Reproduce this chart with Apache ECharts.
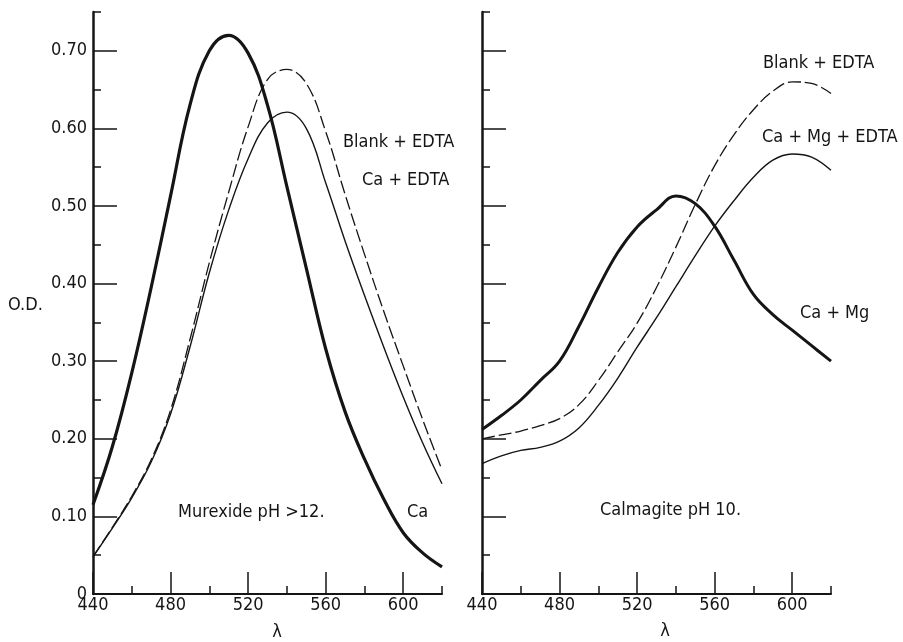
<!DOCTYPE html>
<html>
<head>
<meta charset="utf-8">
<script src="https://cdn.jsdelivr.net/npm/echarts@6/dist/echarts.min.js"></script>
<style>
  html, body { margin: 0; padding: 0; background: #fff; }
  #chart { width: 903px; height: 642px; }
</style>
</head>
<body>
<div id="chart"></div>
<script>
// wavelength grid (nm), shared by all curves
var lambda = [440, 450, 460, 470, 480, 490, 500, 510, 520, 530, 540, 550, 560, 570, 580, 590, 600, 610, 620];

// Murexide pH >12 (left panel)
var murexCa        = [0.115, 0.190, 0.285, 0.395, 0.513, 0.630, 0.700, 0.720, 0.697, 0.630, 0.525, 0.420, 0.316, 0.235, 0.174, 0.122, 0.079, 0.053, 0.035];
var murexBlankEdta = [0.048, 0.086, 0.126, 0.173, 0.237, 0.328, 0.427, 0.518, 0.602, 0.663, 0.676, 0.658, 0.596, 0.515, 0.438, 0.364, 0.294, 0.225, 0.160];
var murexCaEdta    = [0.048, 0.085, 0.124, 0.170, 0.232, 0.318, 0.414, 0.495, 0.561, 0.607, 0.621, 0.600, 0.530, 0.455, 0.385, 0.318, 0.254, 0.195, 0.142];

// Calmagite pH 10 (right panel)
var calmCaMg       = [0.212, 0.230, 0.250, 0.275, 0.300, 0.345, 0.395, 0.440, 0.473, 0.495, 0.513, 0.503, 0.474, 0.430, 0.386, 0.360, 0.340, 0.320, 0.300];
var calmBlankEdta  = [0.200, 0.205, 0.210, 0.217, 0.226, 0.244, 0.275, 0.312, 0.349, 0.395, 0.447, 0.502, 0.552, 0.592, 0.624, 0.648, 0.660, 0.658, 0.645];
var calmCaMgEdta   = [0.168, 0.178, 0.185, 0.189, 0.197, 0.214, 0.243, 0.278, 0.318, 0.356, 0.396, 0.436, 0.474, 0.507, 0.537, 0.559, 0.567, 0.563, 0.546];

// axis ranges / ticks
var xMin = 440, xMax = 620, xMajorMax = 600;
var yMax = 0.75, yMajorMax = 0.7;

var FONT = "'DejaVu Sans Condensed', 'Liberation Sans Narrow', 'DejaVu Sans', sans-serif";
var INK = '#151515';

function pairs(ys) {
  return lambda.map(function (x, i) { return [x, ys[i]]; });
}

(function () {
  var chart = echarts.init(document.getElementById('chart'), null, { renderer: 'canvas' });

  // plot area geometry
  var gTop = 12, gH = 582, gW = 349;
  var panelLeft = [93, 482];
  var majorTop = gTop + gH * (yMax - yMajorMax) / yMax;
  var majorH = gH * yMajorMax / yMax;
  var majorW = gW * (xMajorMax - xMin) / (xMax - xMin);

  var grids = [], xAxes = [], yAxes = [];
  panelLeft.forEach(function (l, p) {
    // main grid: data + short ticks
    grids.push({ left: l, top: gTop, width: gW, height: gH });
    // overlay grid: long ticks + labels
    grids.push({ left: l, top: majorTop, width: majorW, height: majorH });

    xAxes.push({
      gridIndex: p * 2, type: 'value', min: xMin, max: xMax, interval: 20,
      axisLine: { lineStyle: { color: INK, width: 2 } },
      axisTick: { inside: true, length: 8, lineStyle: { color: INK, width: 1.5 } },
      axisLabel: { show: false }, splitLine: { show: false }
    });
    xAxes.push({
      gridIndex: p * 2 + 1, type: 'value', min: xMin, max: xMajorMax, interval: 40,
      axisLine: { show: false },
      axisTick: { inside: true, length: 22, lineStyle: { color: INK, width: 1.5 } },
      axisLabel: { margin: 2, fontSize: 18, color: INK, fontFamily: FONT },
      splitLine: { show: false }
    });
    yAxes.push({
      gridIndex: p * 2, type: 'value', min: 0, max: yMax, interval: 0.05,
      axisLine: { lineStyle: { color: INK, width: 2.5 } },
      axisTick: { inside: true, length: 8, lineStyle: { color: INK, width: 1.5 } },
      axisLabel: { show: false }, splitLine: { show: false }
    });
    yAxes.push({
      gridIndex: p * 2 + 1, type: 'value', min: 0, max: yMajorMax, interval: 0.1,
      axisLine: { show: false },
      axisTick: { inside: true, length: 24, lineStyle: { color: INK, width: 1.5 } },
      axisLabel: {
        show: p === 0, margin: 6, fontSize: 18, color: INK, fontFamily: FONT,
        formatter: function (v) { return v === 0 ? '0' : v.toFixed(2); }
      },
      splitLine: { show: false }
    });
  });

  function curve(ys, axis, width, dashed) {
    return {
      type: 'line', xAxisIndex: axis, yAxisIndex: axis,
      data: pairs(ys), smooth: 0.4, showSymbol: false, silent: true,
      lineStyle: { color: INK, width: width, type: dashed ? [13, 4] : 'solid' }
    };
  }

  function txt(x, y, s, align) {
    return {
      type: 'text', x: x, y: y,
      style: { text: s, fill: INK, font: '18px ' + FONT, textAlign: align || 'left', textVerticalAlign: 'middle' }
    };
  }

  chart.setOption({
    animation: false,
    backgroundColor: '#fff',
    grid: grids,
    xAxis: xAxes,
    yAxis: yAxes,
    series: [
      curve(murexCa, 0, 3.2, false),
      curve(murexBlankEdta, 0, 1.3, true),
      curve(murexCaEdta, 0, 1.4, false),
      curve(calmCaMg, 2, 3, false),
      curve(calmBlankEdta, 2, 1.3, true),
      curve(calmCaMgEdta, 2, 1.4, false)
    ],
    graphic: [
      txt(8, 305, 'O.D.'),
      txt(343, 142, 'Blank + EDTA'),
      txt(362, 180, 'Ca + EDTA'),
      txt(178, 512, 'Murexide pH >12.'),
      txt(407, 512, 'Ca'),
      txt(763, 63, 'Blank + EDTA'),
      txt(762, 137, 'Ca + Mg + EDTA'),
      txt(800, 313, 'Ca + Mg'),
      txt(600, 510, 'Calmagite pH 10.'),
      txt(277, 632, 'λ', 'center'),
      txt(665, 631, 'λ', 'center')
    ]
  });
})();
</script>
</body>
</html>
